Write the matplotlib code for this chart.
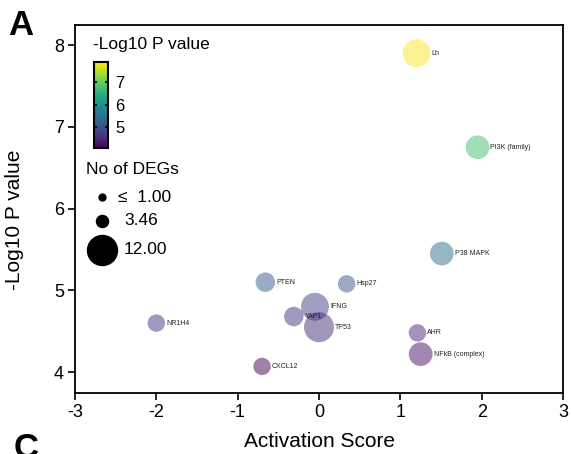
import numpy as np
import matplotlib
matplotlib.use("Agg")
import matplotlib.pyplot as plt
from matplotlib import cm, colors

plt.rcParams['font.family'] = ['Liberation Sans', 'DejaVu Sans']

# ---- data ----
names = ["Lh", "PI3K (family)", "P38 MAPK", "PTEN", "Hsp27", "IFNG", "YAP1",
         "TP53", "AHR", "NFkB (complex)", "CXCL12", "NR1H4"]
activation = [1.20, 1.95, 1.51, -0.66, 0.34, -0.05, -0.31, 0.00, 1.21, 1.25, -0.70, -2.00]
neglogp = [7.90, 6.75, 5.45, 5.10, 5.08, 4.80, 4.68, 4.55, 4.48, 4.22, 4.07, 4.60]
n_degs = [11, 9, 9, 7, 6, 11, 7, 12, 6, 9, 6, 6]
legend_sizes = [1.00, 3.46, 12.00]
legend_labels = ["≤  1.00", "3.46", "12.00"]
xticks = [-3, -2, -1, 0, 1, 2, 3]
yticks = [4, 5, 6, 7, 8]
cbar_ticks = [5, 6, 7]

W, H, DPI = 571, 454, 100
PX2PT = 72.0 / DPI


def diam_px(n):
    return 4.8 + 2.1 * np.asarray(n, dtype=float)


def size_s(n):
    return (diam_px(n) * PX2PT) ** 2


fig = plt.figure(figsize=(W / DPI, H / DPI), dpi=DPI)
ax = fig.add_axes([75 / W, 1 - 393 / H, 488 / W, 368 / H])

norm = colors.Normalize(vmin=min(neglogp), vmax=max(neglogp))
cmap = plt.get_cmap('viridis')

sc = ax.scatter(activation, neglogp, s=size_s(n_degs), c=neglogp, cmap=cmap,
                norm=norm, alpha=0.5, edgecolors='none', zorder=3)

for name, x, y, n in zip(names, activation, neglogp, n_degs):
    off = (diam_px(n) / 2 + 1) * PX2PT
    ax.annotate(name, (x, y), xytext=(off, 0), textcoords='offset points',
                ha='left', va='center', fontsize=5, color='#222222', zorder=4)

ax.set_xlim(-3, 3)
ax.set_ylim(3.745, 8.245)
ax.set_xticks(xticks)
ax.set_yticks(yticks)
ax.set_xticklabels([str(t) for t in xticks])
ax.tick_params(axis='both', direction='out', length=5, width=1.2, labelsize=13,
               pad=3, color='black')
for sp in ax.spines.values():
    sp.set_linewidth(1.3)
    sp.set_color('black')

ax.set_xlabel("Activation Score", fontsize=15, labelpad=8)
ax.set_ylabel("-Log10 P value", fontsize=15)
ax.yaxis.set_label_coords(-0.104, 0.47)

# colorbar
cax = fig.add_axes([94 / W, 1 - 148 / H, 14 / W, 86 / H])
cb = fig.colorbar(cm.ScalarMappable(norm=norm, cmap=cmap), cax=cax)
cb.set_ticks(cbar_ticks)
cb.outline.set_linewidth(1.5)
cax.tick_params(direction='in', length=2.5, width=1.2, labelsize=12, pad=5,
                left=True, right=True)
ax.text(18 / 488, (393 - 45) / 368, "-Log10 P value", transform=ax.transAxes,
        ha='left', va='center', fontsize=12.5)

# size legend
ax.text(11 / 488, (393 - 170) / 368, "No of DEGs", transform=ax.transAxes,
        ha='left', va='center', fontsize=12.5)
leg_y_px = [197, 221, 250]
lab_x_px = [118, 124, 124]
for v, lab, ypx, lx in zip(legend_sizes, legend_labels, leg_y_px, lab_x_px):
    ax.scatter([(101.7 - 75) / 488], [(393 - ypx) / 368], s=size_s(v),
               color='black', transform=ax.transAxes, clip_on=False, zorder=5)
    ax.text((lx - 75) / 488, (393 - ypx) / 368, lab, transform=ax.transAxes,
            ha='left', va='center', fontsize=12.5)

fig.text(8 / W, 1 - 35 / H, "A", fontsize=25, fontweight='bold', va='baseline')
fig.text(14 / W, 1 - 458 / H, "C", fontsize=25, fontweight='bold', va='baseline')

fig.savefig("out.png", dpi=DPI)
